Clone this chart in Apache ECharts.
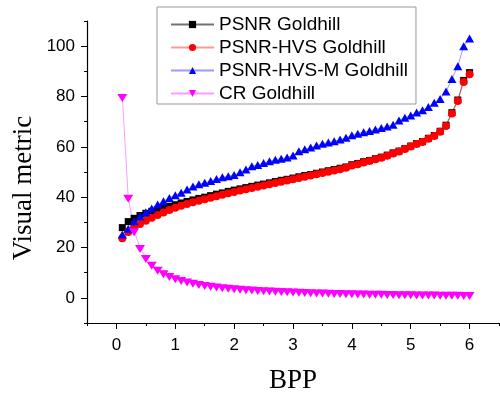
<!DOCTYPE html>
<html>
<head>
<meta charset="utf-8">
<script src="https://cdn.jsdelivr.net/npm/echarts@6/dist/echarts.min.js"></script>
<style>
  html, body { margin: 0; padding: 0; background: #fff; }
  #chart { width: 500px; height: 396px; }
</style>
</head>
<body>
<div id="chart"></div>
<script>
// bpp values (x)
const bpp = [0.1, 0.2, 0.3, 0.4, 0.5, 0.6, 0.7, 0.8, 0.9, 1.0,
  1.1, 1.2, 1.3, 1.4, 1.5, 1.6, 1.7, 1.8, 1.9, 2.0,
  2.1, 2.2, 2.3, 2.4, 2.5, 2.6, 2.7, 2.8, 2.9, 3.0,
  3.1, 3.2, 3.3, 3.4, 3.5, 3.6, 3.7, 3.8, 3.9, 4.0,
  4.1, 4.2, 4.3, 4.4, 4.5, 4.6, 4.7, 4.8, 4.9, 5.0,
  5.1, 5.2, 5.3, 5.4, 5.5, 5.6, 5.7, 5.8, 5.9, 6.0]

const psnr = [27.9, 30.3, 31.6, 32.7, 33.6, 34.4, 35.1, 35.6, 36.4, 37.0,
  37.7, 38.3, 38.9, 39.5, 40.0, 40.6, 41.2, 41.7, 42.3, 42.8,
  43.3, 43.8, 44.3, 44.8, 45.2, 45.7, 46.2, 46.7, 47.1, 47.6,
  48.1, 48.6, 49.0, 49.5, 50.0, 50.5, 51.0, 51.5, 52.0, 52.9,
  53.4, 54.1, 54.6, 55.3, 55.9, 56.7, 57.6, 58.3, 59.3, 60.3,
  61.3, 62.1, 63.4, 64.5, 66.2, 68.6, 73.6, 78.6, 86.4, 89.5]

const psnrHvs = [23.7, 26.2, 27.9, 29.3, 30.6, 31.8, 32.9, 33.9, 34.9, 35.8,
  36.6, 37.3, 38.0, 38.6, 39.2, 39.8, 40.4, 41.0, 41.6, 42.1,
  42.6, 43.1, 43.6, 44.1, 44.6, 45.1, 45.6, 46.1, 46.6, 47.1,
  47.6, 48.1, 48.6, 49.1, 49.6, 50.1, 50.6, 51.1, 51.7, 52.6,
  53.1, 53.8, 54.4, 55.1, 55.7, 56.5, 57.4, 58.1, 59.1, 60.1,
  61.1, 61.9, 63.2, 64.3, 66.0, 68.3, 73.2, 78.2, 85.8, 88.8]

const psnrHvsM = [25.2, 27.5, 30.4, 32.3, 34.0, 35.5, 37.1, 38.4, 39.7, 40.8,
  41.8, 43.0, 44.2, 45.1, 45.7, 46.4, 47.2, 47.9, 48.3, 48.8,
  49.9, 51.0, 52.3, 52.8, 53.6, 54.3, 54.9, 55.3, 55.8, 56.6,
  58.2, 59.0, 59.7, 60.5, 61.2, 61.7, 62.2, 62.9, 63.6, 64.6,
  65.2, 65.8, 66.3, 66.9, 67.5, 68.1, 68.8, 70.5, 71.6, 72.5,
  73.6, 74.5, 75.8, 77.5, 79.0, 82.0, 87.0, 92.0, 100.0, 103.0]

const cr = [80, 40, 26.7, 20, 16, 13.3, 11.4, 10, 8.9, 8,
  7.3, 6.7, 6.2, 5.7, 5.3, 5, 4.7, 4.4, 4.2, 4,
  3.8, 3.6, 3.5, 3.3, 3.2, 3.1, 3.0, 2.9, 2.8, 2.7,
  2.6, 2.5, 2.4, 2.35, 2.29, 2.22, 2.16, 2.11, 2.05, 2.0,
  1.95, 1.9, 1.86, 1.82, 1.78, 1.74, 1.7, 1.67, 1.63, 1.6,
  1.57, 1.54, 1.51, 1.48, 1.45, 1.43, 1.4, 1.38, 1.36, 1.33]

// axis ranges / ticks
const xRange = [-0.5, 6.5]
const yRange = [-10, 110]
const xLabelRange = [0, 6]
const yLabelRange = [0, 100]

const pairs = (ys) => bpp.map((x, i) => [x, ys[i]])

// plot box
const L = 87, R = 1, T = 21, B = 73, W = 500, H = 396
const pxX = (W - L - R) / (xRange[1] - xRange[0])
const pxY = (H - T - B) / (yRange[1] - yRange[0])
// inner grid covering only the labelled range (for major ticks + labels)
const dx = (xLabelRange[0] - xRange[0]) * pxX
const dxR = (xRange[1] - xLabelRange[1]) * pxX
const dy = (yRange[1] - yLabelRange[1]) * pxY
const dyB = (yLabelRange[0] - yRange[0]) * pxY

const chart = echarts.init(document.getElementById('chart'))

// one line series
const makeSeries = (name, ys, symbol, size, color, lineColor, rotate, offset) => ({
  name: name,
  type: 'line',
  data: pairs(ys),
  symbol: symbol,
  symbolSize: size,
  symbolRotate: rotate || 0,
  symbolOffset: offset || [0, 0],
  itemStyle: { color: color },
  lineStyle: { color: lineColor, width: 1 },
  emphasis: { disabled: true }
})

const tickFont = { color: '#000', fontFamily: 'Liberation Sans', fontSize: 17 }
const black = { color: '#000', width: 1 }

chart.setOption({
  animation: false,
  grid: [
    { left: L, right: R, top: T, bottom: B, containLabel: false, outerBoundsMode: 'none' },
    { left: L + dx, right: R + dxR, top: T + dy, bottom: B + dyB, containLabel: false, outerBoundsMode: 'none' }
  ],
  legend: {
    left: 157, top: 7,
    orient: 'vertical',
    padding: [8, 8, 1, 13],
    itemGap: 4,
    itemWidth: 43,
    itemHeight: 9,
    borderColor: '#999',
    borderWidth: 1,
    textStyle: { color: '#000', fontFamily: 'Liberation Sans', fontSize: 19 },
    data: ['PSNR Goldhill', 'PSNR-HVS Goldhill', 'PSNR-HVS-M Goldhill', 'CR Goldhill']
  },
  xAxis: [{
    gridIndex: 0,
    type: 'value',
    min: xRange[0], max: xRange[1], interval: 0.5,
    name: 'BPP',
    nameLocation: 'middle',
    nameGap: 44,
    nameTextStyle: { color: '#000', fontFamily: 'Liberation Serif', fontSize: 27 },
    axisLine: { show: true, onZero: false, lineStyle: { color: '#000', width: 1.2 } },
    axisTick: { show: true, length: 3, lineStyle: black },
    axisLabel: { show: false },
    splitLine: { show: false }
  }, {
    gridIndex: 1,
    type: 'value',
    min: xLabelRange[0], max: xLabelRange[1], interval: 1,
    offset: dyB,
    axisLine: { show: false, onZero: false },
    axisTick: { show: true, length: 6, lineStyle: black },
    axisLabel: Object.assign({ margin: 14 }, tickFont),
    splitLine: { show: false }
  }],
  yAxis: [{
    gridIndex: 0,
    type: 'value',
    min: yRange[0], max: yRange[1], interval: 10,
    name: 'Visual metric',
    nameLocation: 'middle',
    nameGap: 50,
    nameTextStyle: { color: '#000', fontFamily: 'Liberation Serif', fontSize: 27, padding: [0, 32, 0, 0] },
    axisLine: { show: true, onZero: false, lineStyle: { color: '#000', width: 1.2 } },
    axisTick: { show: true, length: 3, lineStyle: black },
    axisLabel: { show: false },
    splitLine: { show: false }
  }, {
    gridIndex: 1,
    type: 'value',
    min: yLabelRange[0], max: yLabelRange[1], interval: 20,
    offset: dx,
    axisLine: { show: false, onZero: false },
    axisTick: { show: true, length: 6, lineStyle: black },
    axisLabel: Object.assign({ margin: 12 }, tickFont),
    splitLine: { show: false }
  }],
  series: [
    makeSeries('PSNR Goldhill', psnr, 'rect', 7, '#000', 'rgba(0,0,0,0.55)'),
    makeSeries('PSNR-HVS Goldhill', psnrHvs, 'circle', 8, '#ff0000', 'rgba(255,0,0,0.4)'),
    makeSeries('PSNR-HVS-M Goldhill', psnrHvsM, 'triangle', [9, 8], '#0000ff', 'rgba(0,0,255,0.4)'),
    makeSeries('CR Goldhill', cr, 'triangle', [10, 8], '#ff00ff', 'rgba(255,0,255,0.4)', 180, [0, 1.5])
  ]
})
</script>
</body>
</html>
